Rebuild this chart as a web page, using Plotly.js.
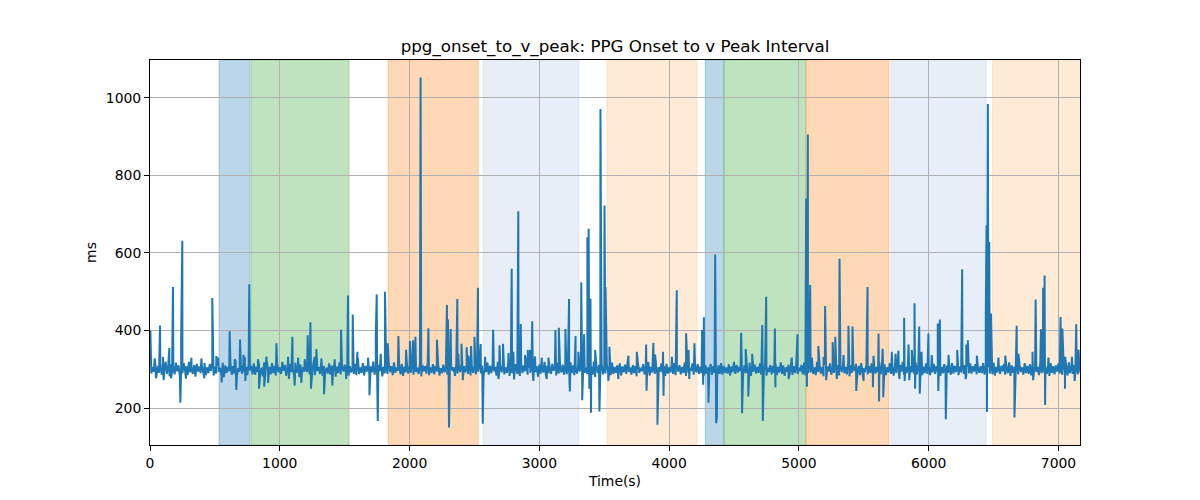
<!DOCTYPE html>
<html>
<head>
<meta charset="utf-8">
<script src="https://cdn.plot.ly/plotly-3.0.1.min.js"></script>
<style>html,body{margin:0;padding:0;background:#fff;}#chart{width:1200px;height:500px;}</style>
</head>
<body>
<div id="chart"></div>
<script>
// Baseline beats (ms): upper beats every 20 s from t = 0, lower beats every 20 s from t = 10
const sampleStep = 20;
const offsetLow = 10;
const baselineHigh = [
312,306,318,309,315,304,320,308,313,305,317,310,303,316,308,319,306,311,314,307,
309,316,305,313,319,307,311,304,317,310,306,315,308,320,303,312,318,306,314,309,
315,307,312,304,318,310,306,316,309,313,305,319,311,307,314,303,317,308,312,306,
308,314,305,317,311,306,319,309,304,315,310,313,307,318,305,312,316,308,303,314,
311,305,316,309,313,307,320,304,312,317,306,310,315,308,318,305,311,314,307,313,
306,317,310,304,315,311,308,319,305,313,309,316,303,312,307,318,310,305,314,308,
314,308,312,318,305,311,307,316,310,304,317,309,313,306,319,308,312,305,315,310,
307,313,305,316,310,318,304,311,315,308,312,306,319,309,305,314,310,317,306,312,
313,306,318,310,305,314,309,316,304,312,307,320,308,311,315,305,313,309,317,306,
310,315,307,312,318,305,311,309,316,304,313,308,319,306,312,310,305,315,308,314,
305,312,316,308,311,306,318,310,304,315,309,313,307,317,311,305,314,308,320,310,
316,309,305,313,307,319,311,306,314,310,305,317,309,312,306,315,308,318,304,311,
309,314,306,318,310,305,312,316,308,313,304,311,317,307,314,309,305,319,310,306,
312,307,315,304,317,311,308,313,306,318,310,305,314,309,316,303,312,308,315,311,
306,318,309,313,305,316,310,307,314,311,319,306,312,308,304,317,310,313,307,315,
311,305,314,308,318,306,313,310,305,316,309,312,307,319,311,306,315,308,313,304,
308,316,310,305,313,317,306,311,309,314,304,318,310,307,315,312,305,316,309,313,
314,309,306,317,311,305,312,316,308,310,315,306,313,309,318,307,311,305,314,310
];
const baselineLow = [
289,294,283,291,286,296,288,282,293,287,295,284,290,297,285,292,288,281,294,290,
292,285,290,296,284,289,293,287,280,291,295,286,289,283,294,288,292,285,297,287,
286,293,288,282,291,295,287,290,284,292,288,296,283,289,293,286,291,280,288,294,
293,287,291,285,296,288,283,292,289,286,294,281,290,287,295,289,284,292,288,285,
288,291,284,294,287,292,286,289,295,282,290,288,293,285,291,296,287,283,292,289,
291,286,293,288,282,295,289,285,291,287,294,284,290,292,286,288,296,283,289,293,
285,292,288,284,291,287,294,289,282,293,286,290,295,284,288,292,287,291,283,290,
294,288,283,290,295,286,291,287,293,281,289,292,285,290,288,296,284,289,292,286,
287,293,290,285,289,294,283,291,288,292,286,280,290,294,287,289,293,285,288,291,
290,284,292,288,293,286,290,282,291,295,287,289,284,292,288,286,294,290,283,289,
292,288,285,294,287,291,283,290,296,286,292,288,290,284,289,293,286,291,282,288,
286,291,289,284,293,288,292,295,285,290,287,283,294,289,291,286,290,284,293,287,
291,285,292,288,283,294,289,286,291,288,295,287,284,290,292,288,285,293,289,282,
288,294,286,291,289,284,293,290,287,282,291,296,288,285,290,293,287,291,284,289,
293,287,290,285,292,288,284,291,289,294,286,290,283,292,288,287,295,285,290,288,
285,292,288,294,283,290,287,291,286,289,293,285,292,288,284,290,289,294,287,291,
290,286,293,289,287,284,292,288,295,286,290,283,291,289,287,293,286,290,288,284,
289,293,285,290,292,288,283,291,287,294,289,286,292,284,290,288,293,287,291,289
];

// Outlier beats (time in s, value in ms)
const spikeTimes = [
3,77,149,177,234,240,249,480,525,552,614,665,694,720,765,840,880,900,974,1097,
1115,1215,1236,1240,1282,1341,1405,1472,1526,1562,1598,1691,1740,1747,1755,1778,1811,1832,1914,1973,
2003,2027,2045,2085,2145,2211,2288,2296,2304,2317,2368,2400,2440,2474,2500,2527,2548,2564,2644,2693,
2720,2787,2838,2857,2911,2945,3124,3150,3201,3229,3235,3279,3323,3330,3345,3370,3380,3394,3398,3463,
3471,3502,3510,3540,3823,3826,3879,3910,3953,3957,4059,4131,4150,4195,4254,4262,4268,4303,4355,4362,
4368,4555,4562,4590,4610,4640,4718,4722,4748,4815,4819,4989,5056,5062,5069,5087,5150,5202,5260,5280,
5313,5382,5413,5442,5529,5570,5614,5618,5645,5650,5745,5811,5815,5845,5891,5895,5927,5931,5945,5998,
6070,6074,6086,6132,6220,6258,6290,6302,6440,6446,6449,6456,6467,6480,6661,6678,6800,6824,6865,6882,
6893,6897,7016,7030,7050,7125,7137,7155
];
const spikeValues = [
400,413,355,512,214,380,631,484,330,266,398,247,377,337,519,250,255,322,367,384,
258,388,421,250,352,236,258,402,490,441,345,233,390,493,167,340,500,367,386,350,
373,375,384,1052,406,376,466,428,150,404,481,366,357,360,384,510,365,160,402,362,
366,559,707,417,350,424,401,407,404,481,243,386,524,220,390,640,662,482,188,191,
971,722,512,358,364,245,368,157,345,232,504,393,350,367,401,260,434,214,596,161,
175,394,187,352,230,340,414,167,487,405,254,390,740,255,905,517,360,463,370,384,
585,412,410,244,512,254,392,217,353,228,340,433,270,364,470,250,410,237,345,392,
418,244,428,171,350,558,364,375,444,671,190,984,628,444,176,412,345,480,403,510,
542,208,435,405,250,270,416,350
];

// Small excursions just outside the baseline band (time in s, value in ms)
const minorTimes = [
36,46,100,105,162,277,319,396,419,511,653,730,735,832,897,910,1064,1070,1141,1166,
1192,1269,1320,1423,1511,1603,1680,2376,2410,2453,2582,2685,2762,2800,2805,2890,2929,2954,2967,3019,
3057,3070,3301,3385,3430,3532,3609,3686,3751,3892,4021,4155,4920,4945,5100,5190,5210,5292,5344,5498,
5575,5716,5767,5775,5850,5870,6024,6153,6285,6371,6538,6590,6692,6805,6923,7052,7104
];
const minorValues = [
328,277,332,272,277,276,330,328,277,334,326,332,270,326,333,265,332,275,330,265,
326,332,328,326,275,328,330,340,272,335,332,275,342,345,274,337,350,270,333,330,
275,330,345,250,350,270,275,335,345,338,332,275,275,330,330,332,272,275,337,270,
335,345,348,275,272,350,337,337,275,335,330,335,340,272,330,332,332
];

// Shaded segments
const spanStarts = [532, 779, 1835, 2567, 3521, 4279, 4423, 5055, 5711, 6492];
const spanEnds   = [771, 1534, 2529, 3306, 4215, 4421, 5053, 5695, 6443, 7300];
const spanColors = ['31,119,180','44,160,44','255,127,14','174,199,232','255,187,120',
                    '31,119,180','44,160,44','255,127,14','174,199,232','255,187,120'];

const titleText = 'ppg_onset_to_v_peak: PPG Onset to v Peak Interval';
const xTitle = 'Time(s)';
const yTitle = 'ms';
const xTicks = [0,1000,2000,3000,4000,5000,6000,7000];
const yTicks = [200,400,600,800,1000];

// merge baseline and outliers in time order
const pts = [];
baselineHigh.forEach((v,i)=>pts.push([i*sampleStep, v]));
baselineLow.forEach((v,i)=>pts.push([offsetLow + i*sampleStep, v]));
spikeTimes.forEach((t,i)=>pts.push([t, spikeValues[i]]));
minorTimes.forEach((t,i)=>pts.push([t, minorValues[i]]));
pts.sort((a,b)=>a[0]-b[0]);
const xs = pts.map(p=>p[0]);
const ys = pts.map(p=>p[1]);

const ymin = Math.min(...ys), ymax = Math.max(...ys);
const pad = (ymax-ymin)*0.05;

const shapes = spanStarts.map((s,i)=>({
  type:'rect', xref:'x', yref:'paper', x0:s, x1:spanEnds[i], y0:0, y1:1,
  fillcolor:'rgba('+spanColors[i]+',0.3)',
  line:{color:'rgba('+spanColors[i]+',0.3)', width:1},
  layer:'below'
}));

const font = {family:'DejaVu Sans, sans-serif', color:'#000'};

Plotly.newPlot('chart', [{
  x: xs, y: ys, type:'scatter', mode:'lines',
  line:{color:'#1f77b4', width:2, simplify:false}, hoverinfo:'skip'
}], {
  width:1200, height:500,
  margin:{l:150, r:120, t:60, b:55},
  paper_bgcolor:'#fff', plot_bgcolor:'rgba(0,0,0,0)',
  showlegend:false,
  font: Object.assign({size:14}, font),
  title:{text:titleText, font:Object.assign({size:16.7}, font), x:0.5, xref:'paper', xanchor:'center', y:1-46/500, yref:'container', yanchor:'middle'},
  xaxis:{
    range:[0,7166], tickvals:xTicks, ticktext:xTicks.map(String),
    showline:true, mirror:true, linecolor:'#000', linewidth:1,
    ticks:'outside', ticklen:5, tickwidth:1, tickcolor:'#000',
    showgrid:true, gridcolor:'#b0b0b0', gridwidth:1, zeroline:false,
    tickfont:Object.assign({size:13.9}, font),
    title:{text:xTitle, font:Object.assign({size:13.9}, font), standoff:6}
  },
  yaxis:{
    range:[ymin-pad, ymax+pad], tickvals:yTicks, ticktext:yTicks.map(String),
    showline:true, mirror:true, linecolor:'#000', linewidth:1,
    ticks:'outside', ticklen:5, tickwidth:1, tickcolor:'#000',
    showgrid:true, gridcolor:'#b0b0b0', gridwidth:1, zeroline:false,
    tickfont:Object.assign({size:13.9}, font),
    title:{text:yTitle, font:Object.assign({size:13.9}, font), standoff:5}
  },
  shapes: shapes
}, {displayModeBar:false, staticPlot:true});
</script>
</body>
</html>
